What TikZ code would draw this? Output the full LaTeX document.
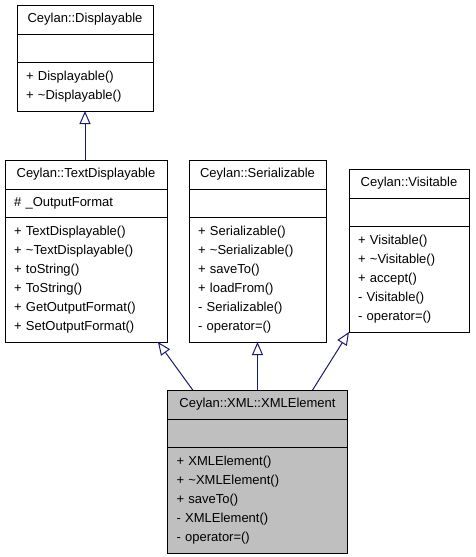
\documentclass[tikz,border=0pt]{standalone}
\usepackage{fontspec}
\setmainfont{Liberation Sans}
\usetikzlibrary{positioning,arrows.meta,calc}
\definecolor{grey75}{RGB}{191,191,191}
\definecolor{midnightblue}{RGB}{25,25,112}
\begin{document}
\begin{tikzpicture}[x=1pt, y=-1pt, node distance=0pt,
  font=\fontsize{13}{19}\selectfont,
  box/.style={draw, line width=1pt, inner xsep=9pt, inner ysep=0pt, outer sep=0pt},
  hdr/.style={box, text width=#1, align=center, minimum height=29pt},
  att/.style={box, text width=#1, align=left, minimum height=28.5pt},
  mth/.style={box, text width=#1, align=left},
  inh/.style={midnightblue, line width=1pt, -{Triangle[open, length=13pt, width=11pt]}}]
\useasboundingbox (0,0) rectangle (475,557);
\node[hdr=118pt, anchor=north] (dsp) at (85,5) {Ceylan::Displayable};
\node[att=118pt, below=of dsp] (dsp-a) {};
\node[mth=118pt, minimum height=48.5pt, below=of dsp-a] (dsp-m) {+ Displayable()\\+ \textasciitilde Displayable()};
\node[hdr=144pt, anchor=north west] (td) at (5,160) {Ceylan::TextDisplayable};
\node[att=144pt, below=of td] (td-a) {\# \_OutputFormat};
\node[mth=144pt, minimum height=124.5pt, below=of td-a] (td-m) {+ TextDisplayable()\\+ \textasciitilde TextDisplayable()\\+ toString()\\+ ToString()\\+ GetOutputFormat()\\+ SetOutputFormat()};
\node[hdr=119pt, right=22pt of td] (ser) {Ceylan::Serializable};
\node[att=119pt, below=of ser] (ser-a) {};
\node[mth=119pt, minimum height=124.5pt, below=of ser-a] (ser-m) {+ Serializable()\\+ \textasciitilde Serializable()\\+ saveTo()\\+ loadFrom()\\- Serializable()\\- operator=()};
\node[hdr=102pt, right=23pt of ser.north east, anchor=north west, yshift=-9pt] (vis) {Ceylan::Visitable};
\node[att=102pt, below=of vis] (vis-a) {};
\node[mth=102pt, minimum height=105.5pt, below=of vis-a] (vis-m) {+ Visitable()\\+ \textasciitilde Visitable()\\+ accept()\\- Visitable()\\- operator=()};
\node[hdr=162pt, fill=grey75, below=48pt of ser-m] (xml) {Ceylan::XML::XMLElement};
\node[att=162pt, fill=grey75, below=of xml] (xml-a) {};
\node[mth=162pt, fill=grey75, minimum height=105.5pt, below=of xml-a] (xml-m) {+ XMLElement()\\+ \textasciitilde XMLElement()\\+ saveTo()\\- XMLElement()\\- operator=()};
\draw[inh] (dsp-m.south |- td.north) -- (dsp-m.south);
\draw[inh] ($(xml.north west)!0.14!(xml.north east)$) -- ($(td-m.south west)!0.944!(td-m.south east)$);
\draw[inh] (xml.north) -- (ser-m.south);
\draw[inh] ($(xml.north west)!0.806!(xml.north east)$) -- (vis-m.south west);
\end{tikzpicture}
\end{document}
